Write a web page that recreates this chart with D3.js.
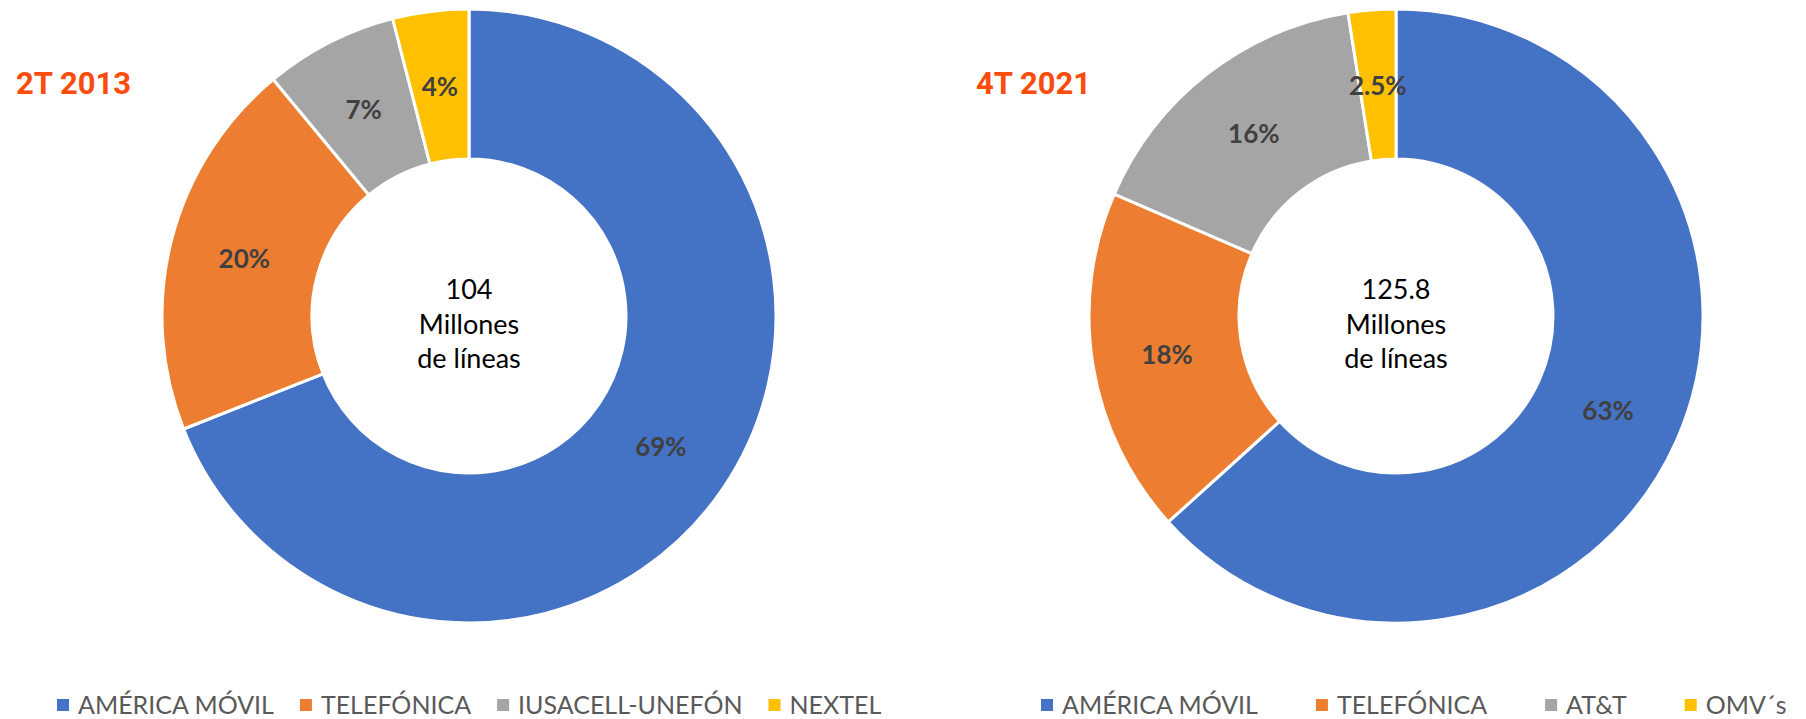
<!DOCTYPE html>
<html>
<head>
<meta charset="utf-8">
<script src="https://cdn.jsdelivr.net/npm/d3@7"></script>
<style>
  body { margin: 0; background: #fff; }
  svg { display: block; }
</style>
</head>
<body>
<svg id="chart" width="1806" height="719"></svg>
<script>
// data
const colors = ['#4472C4', '#ED7D31', '#A5A5A5', '#FFC000'];

const leftTitle = '2T 2013';
const leftCategories = ['AMÉRICA MÓVIL', 'TELEFÓNICA', 'IUSACELL-UNEFÓN', 'NEXTEL'];
const leftValues = [69, 20, 7, 4];
const leftLabels = ['69%', '20%', '7%', '4%'];
const leftCenterText = ['104', 'Millones', 'de líneas'];

const rightTitle = '4T 2021';
const rightCategories = ['AMÉRICA MÓVIL', 'TELEFÓNICA', 'AT&T', 'OMV´s'];
const rightValues = [63.3, 18.2, 16, 2.5];
const rightLabels = ['63%', '18%', '16%', '2.5%'];
const rightCenterText = ['125.8', 'Millones', 'de líneas'];

const svg = d3.select('#chart');

function drawDonut(opts) {
    const g = svg.append('g');

    // title
    g.append('text')
        .attr('x', opts.titleX)
        .attr('y', 94)
        .attr('font-family', 'Roboto, sans-serif')
        .attr('font-weight', 700)
        .attr('font-size', 31)
        .attr('fill', '#FC4C0C')
        .text(opts.title);

    const outer = 307, inner = 157;
    const pie = d3.pie().sort(null).value(d => d.value);
    const arc = d3.arc().innerRadius(inner).outerRadius(outer);
    const labelArc = d3.arc().innerRadius((inner + outer) / 2).outerRadius((inner + outer) / 2);

    const data = opts.values.map((v, i) => ({ value: v, label: opts.labels[i], color: colors[i] }));
    const arcs = pie(data);

    const donut = g.append('g').attr('transform', `translate(${opts.cx},316)`);

    donut.selectAll('path')
        .data(arcs)
        .enter()
        .append('path')
        .attr('d', arc)
        .attr('fill', d => d.data.color)
        .attr('stroke', '#fff')
        .attr('stroke-width', 3)
        .attr('stroke-linejoin', 'round');

    donut.selectAll('text.pct')
        .data(arcs)
        .enter()
        .append('text')
        .attr('class', 'pct')
        .attr('transform', d => `translate(${labelArc.centroid(d)})`)
        .attr('text-anchor', 'middle')
        .attr('dominant-baseline', 'central')
        .attr('font-family', 'Lato, sans-serif')
        .attr('font-weight', 700)
        .attr('font-size', 26)
        .attr('fill', '#404040')
        .text(d => d.data.label);

    // centre text
    const lineY = [-17, 18, 52];
    donut.selectAll('text.center')
        .data(opts.centerText)
        .enter()
        .append('text')
        .attr('class', 'center')
        .attr('x', 0)
        .attr('y', (d, i) => lineY[i])
        .attr('text-anchor', 'middle')
        .attr('font-family', 'Lato, sans-serif')
        .attr('font-size', 27)
        .attr('fill', '#000')
        .text(d => d);

    // legend, flowed left to right
    const legend = g.append('g');
    let x = opts.legendX;
    opts.categories.forEach((name, i) => {
        legend.append('rect')
            .attr('x', x)
            .attr('y', 699)
            .attr('width', 12)
            .attr('height', 12)
            .attr('fill', colors[i]);
        const t = legend.append('text')
            .attr('x', x + 21)
            .attr('y', 714)
            .attr('font-family', 'Lato, sans-serif')
            .attr('font-size', 25)
            .attr('fill', '#595959')
            .text(name);
        x += 21 + t.node().getComputedTextLength() + opts.legendGap;
    });
}

drawDonut({
    title: leftTitle, titleX: 16, cx: 469,
    values: leftValues, labels: leftLabels, categories: leftCategories,
    centerText: leftCenterText, legendX: 57, legendGap: 26
});

drawDonut({
    title: rightTitle, titleX: 976, cx: 1396,
    values: rightValues, labels: rightLabels, categories: rightCategories,
    centerText: rightCenterText, legendX: 1041, legendGap: 58
});
</script>
</body>
</html>
